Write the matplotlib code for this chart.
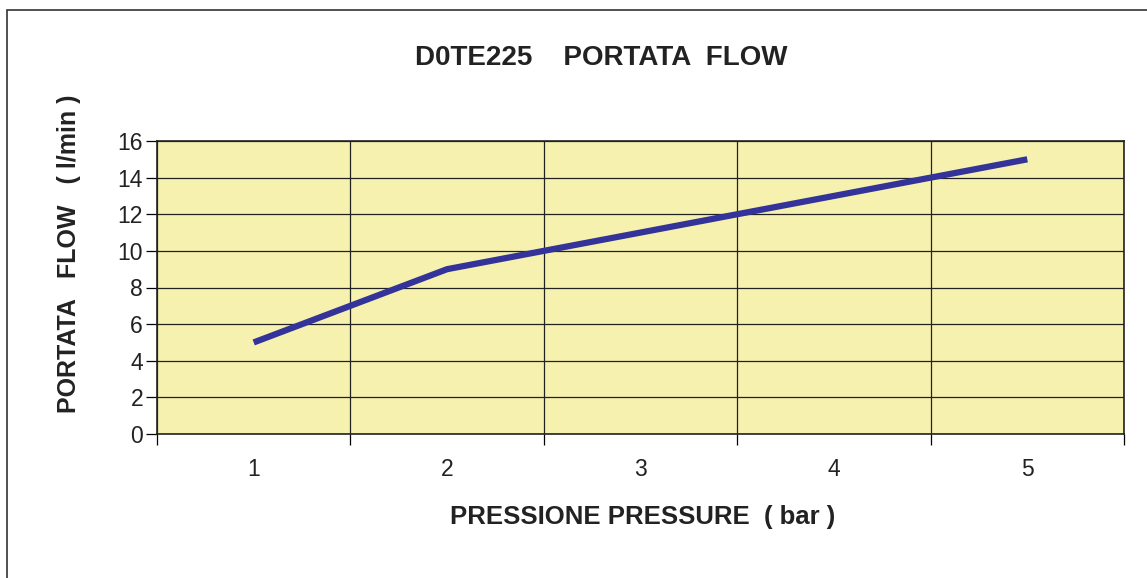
import matplotlib
matplotlib.use("Agg")
import matplotlib.pyplot as plt
from matplotlib.patches import Rectangle

plt.rcParams['font.family'] = ['Liberation Sans', 'DejaVu Sans']

# data
pressure = [1, 2, 3, 4, 5]
flow = [5, 9, 11, 13, 15]
y_ticks = [0, 2, 4, 6, 8, 10, 12, 14, 16]

W, H = 1147, 578
fig = plt.figure(figsize=(W / 100, H / 100), dpi=100)

# outer chart border (cut off at right and bottom)
fig.patches.append(Rectangle((7 / W, -0.05), 1.1, 1 - 10 / H + 0.05,
                             transform=fig.transFigure, fill=False,
                             edgecolor='#333333', linewidth=1.2))

ax = fig.add_axes([157 / W, 1 - 434 / H, (1124 - 157) / W, (434 - 141) / H])
ax.set_facecolor('#F7F1AF')

ax.plot(pressure, flow, color='#33339A', linewidth=4.5, solid_capstyle='butt')

ax.set_xlim(0.5, 5.5)
ax.set_ylim(0, 16)
ax.set_yticks(y_ticks)
ax.set_xticks(pressure)
ax.set_xticks([0.5, 1.5, 2.5, 3.5, 4.5, 5.5], minor=True)

ax.grid(axis='y', which='major', color='#222222', linewidth=0.9)
ax.grid(axis='x', which='minor', color='#222222', linewidth=0.9)
ax.set_axisbelow(True)

ax.tick_params(axis='x', which='major', length=0, pad=17, labelsize=16.5, labelcolor='#222222')
ax.tick_params(axis='x', which='minor', length=8, width=0.9, direction='out')
ax.tick_params(axis='y', length=8, width=0.9, direction='out', labelsize=16.5,
               pad=2, labelcolor='#222222')

for s in ax.spines.values():
    s.set_color('#222222')
    s.set_linewidth(1.2)

fig.text(601 / W, 1 - 58 / H, 'D0TE225    PORTATA  FLOW', ha='center', va='center',
         fontsize=20, fontweight='bold', color='#222222')
fig.text(643 / W, 1 - 517 / H, 'PRESSIONE PRESSURE  ( bar )', ha='center', va='center',
         fontsize=18.5, fontweight='bold', color='#222222')
fig.text(69 / W, 1 - 254 / H, 'PORTATA   FLOW   ( l/min )', ha='center', va='center',
         rotation=90, fontsize=18, fontweight='bold', color='#222222')

fig.savefig('out.png', dpi=100)
